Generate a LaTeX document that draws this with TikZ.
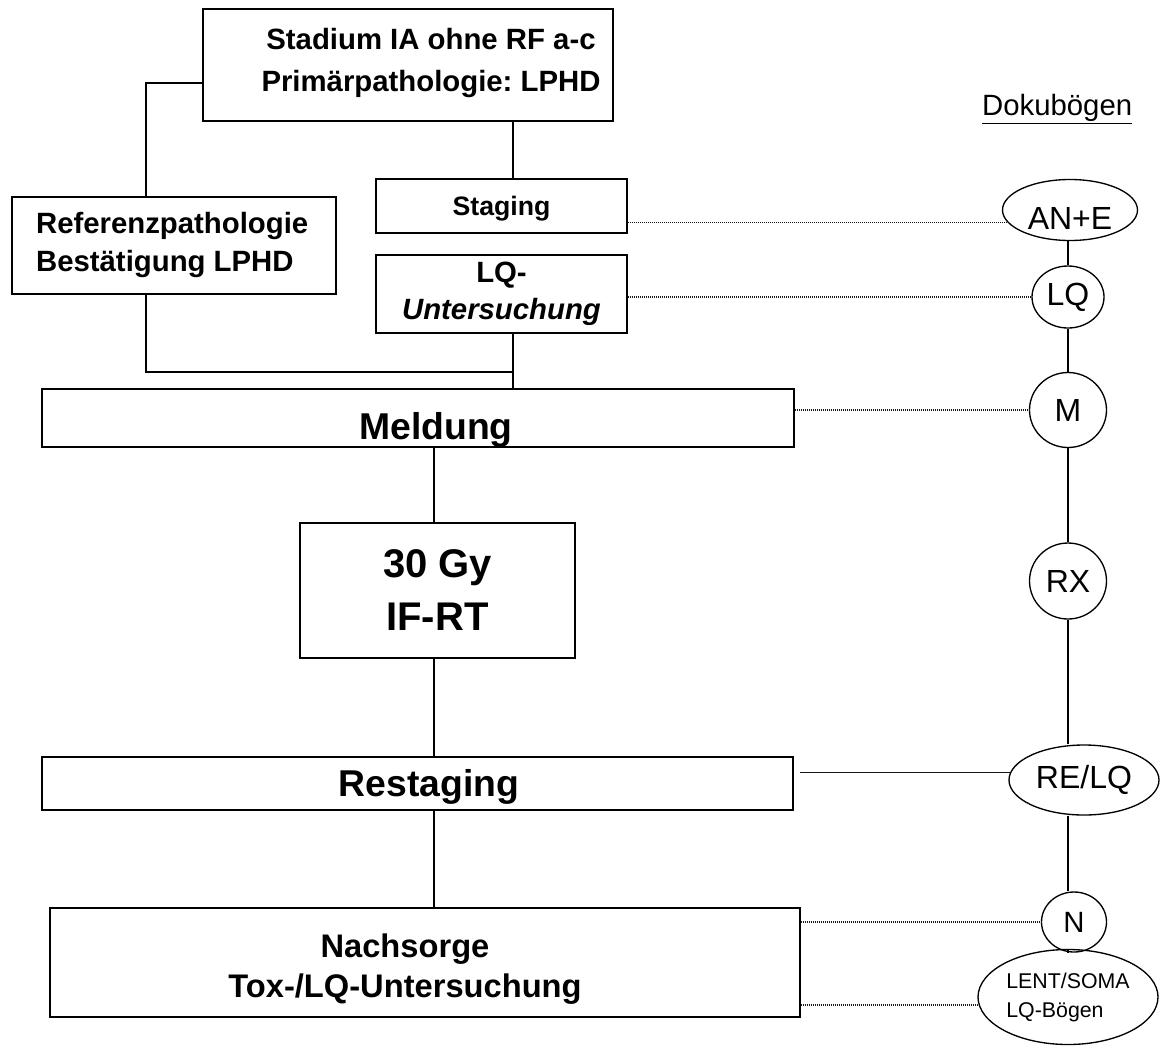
\documentclass[tikz,border=0pt]{standalone}
\usepackage{fontspec}
\setmainfont{Liberation Sans}
\frenchspacing
\usetikzlibrary{shapes.geometric}
\newcommand{\setfs}[2]{\fontsize{#1}{#2}\selectfont}
\tikzset{box/.style={draw, line width=1.1pt, inner sep=0pt}}
\tikzset{doc/.style={draw, ellipse, line width=1pt, inner sep=0pt, font=\setfs{24pt}{28pt}}}
\tikzset{doku/.style={line width=1pt, black!90, dash pattern=on 1pt off 0.5pt}}

\begin{document}
\begin{tikzpicture}[x=0.75pt, y=-0.75pt, line width=1pt]
  \useasboundingbox (0,0) rectangle (1160,1047);

  % study arm, left side
  \node[box, minimum width=307.5pt, minimum height=84pt] (stadium) at (408,65) {};
  \node[font=\bfseries\setfs{22pt}{31.5pt}, align=center] (stadiumtxt) at (431,63)
    {Stadium IA ohne RF a-c\\Prim\"arpathologie: LPHD};
  \node[box, minimum width=243pt, minimum height=72.75pt] (ref) at (174,245.5) {};
  \node[font=\bfseries\setfs{22pt}{29pt}, align=left, anchor=west] (reftxt) at (31,245)
    {Referenzpathologie\\Best\"atigung LPHD};
  \node[box, minimum width=188.25pt, minimum height=40.5pt, font=\bfseries\setfs{20pt}{24pt},
    text height=14.5pt, text depth=0pt] (staging) at (501.5,206) {Staging};
  \node[box, minimum width=188.25pt, minimum height=58.5pt, align=center,
    font=\bfseries\setfs{22pt}{27.75pt}] (lqbox) at (501.5,294) {LQ-\\\itshape Untersuchung};
  \node[box, minimum width=564pt, minimum height=43.5pt] (meldung) at (418,418) {};
  \node[font=\bfseries\setfs{28pt}{32pt}] (meldtxt) at (436,430) {Meldung};
  \node[box, minimum width=206.25pt, minimum height=101.25pt, align=center,
    font=\bfseries\setfs{30pt}{39.75pt}] (gy) at (437.5,590.5) {30 Gy\\IF-RT};
  \node[box, minimum width=563.25pt, minimum height=39.75pt] (rest) at (417.5,783.5) {};
  \node[font=\bfseries\setfs{28pt}{32pt}] (resttxt) at (429,787) {Restaging};
  \node[box, minimum width=562.5pt, minimum height=81.75pt] (nach) at (425,962.5) {};
  \node[font=\bfseries\setfs{24.5pt}{30pt}, align=center] (nachtxt) at (405,969)
    {Nachsorge\\Tox-/LQ-Untersuchung};

  \coordinate (tap) at (146,83);
  \coordinate (trunk) at (513,372);
  \coordinate (spine) at (434,0);
  \coordinate (col) at (1068,0);

  \draw (stadium.west |- tap) -- (tap) -- (tap |- ref.north);
  \draw (tap |- ref.south) |- (trunk);
  \draw (stadium.south -| trunk) -- (staging.north -| trunk);
  \draw (lqbox.south -| trunk) -- (meldung.north -| trunk);
  \draw (meldung.south -| spine) -- (gy.north -| spine);
  \draw (gy.south -| spine) -- (rest.north -| spine);
  \draw (rest.south -| spine) -- (nach.north -| spine);

  % documentation sheets, right side
  \node[font=\setfs{22pt}{26pt}, anchor=base west] (dokubogen) at (977,115) {\underline{Dokub\"ogen}};
  \node[doc, minimum width=101.25pt, minimum height=45.75pt, text height=29pt, text depth=0pt]
    (ane) at (1070,210) {AN+E};
  \node[doc, minimum width=54pt, minimum height=46.5pt] (lqdoc) at (1068,297) {LQ};
  \node[doc, minimum width=57.75pt, minimum height=56.25pt] (mdoc) at (1068,410) {M};
  \node[doc, minimum width=57.75pt, minimum height=57pt] (rx) at (1068,581) {RX};
  \node[doc, minimum width=112.5pt, minimum height=52.5pt] (relq) at (1084,780) {RE/LQ};
  \node[doc, minimum width=48.75pt, minimum height=45pt, font=\setfs{22pt}{26pt}] (ndoc) at (1074,922) {N};
  \node[doc, minimum width=135pt, minimum height=71.25pt, align=left,
    font=\setfs{16pt}{21.75pt}] (lent) at (1068,997) {LENT/SOMA\\LQ-B\"ogen};

  \draw (ane.south -| col) -- (lqdoc.north);
  \draw (lqdoc) -- (mdoc);
  \draw (mdoc) -- (rx);
  \draw (rx) -- (rx |- relq.north);
  \draw (col |- relq.south) -- (col |- ndoc.north);
  \draw (col |- ndoc.south) -- (col |- lent.north);

  \draw[doku] (staging.east |- ane.191) -- (ane.191);
  \draw[doku] (lqbox.east |- lqdoc.west) -- (lqdoc.west);
  \draw[doku] (meldung.east |- mdoc.west) -- (mdoc.west);
  \draw[doku] ([xshift=5pt]rest.east |- relq.174) -- (relq.174);
  \draw[doku] (nach.east |- ndoc.west) -- (ndoc.west);
  \draw[doku] (nach.east |- lent.185) -- (lent.185);
\end{tikzpicture}
\end{document}
